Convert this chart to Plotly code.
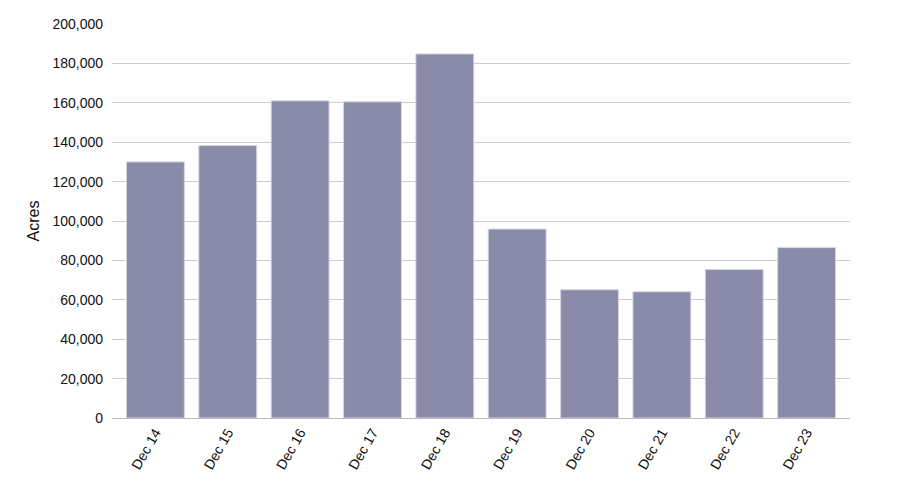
import plotly.graph_objects as go

days = ["Dec 14", "Dec 15", "Dec 16", "Dec 17", "Dec 18",
        "Dec 19", "Dec 20", "Dec 21", "Dec 22", "Dec 23"]
acres = [130000, 138300, 161000, 160500, 184800,
         95900, 65100, 64100, 75400, 86500]

fig = go.Figure()
fig.add_trace(go.Bar(
    x=days,
    y=acres,
    marker=dict(color="#898ba9", line=dict(color="#d4d5e2", width=1)),
))

# page has an 8px body margin, so margins are shifted to land the plot area
# where the reference has it
fig.update_layout(
    width=900,
    height=500,
    margin=dict(l=104, r=58, t=16, b=90),
    paper_bgcolor="white",
    plot_bgcolor="white",
    font=dict(family="Liberation Sans, Arial, sans-serif", size=14, color="#111"),
    bargap=0.2,
    showlegend=False,
    xaxis=dict(
        range=[-0.6, 9.6],
        tickangle=-60,
        showline=True,
        linecolor="#bbbbbb",
        linewidth=1,
        ticks="",
        showgrid=False,
        ticklabelstandoff=0,
        automargin=False,
    ),
    yaxis=dict(
        range=[0, 200000],
        dtick=20000,
        tickformat=",",
        showgrid=True,
        gridcolor="#cccccc",
        gridwidth=1,
        zeroline=False,
        ticks="",
        ticklabelstandoff=8,
        automargin=False,
        title=dict(text="Acres", font=dict(size=16), standoff=8),
    ),
)

fig.write_html("out.html")
